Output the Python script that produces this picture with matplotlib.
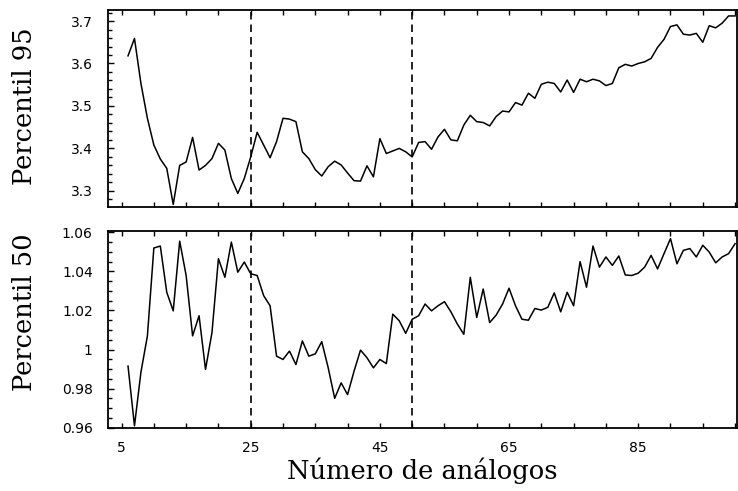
import matplotlib
matplotlib.use("Agg")
import matplotlib.pyplot as plt
from matplotlib.ticker import MultipleLocator, FixedLocator, FuncFormatter

# ---- data ----
n_analogos = list(range(6, 101))

percentil_95 = [
    3.618, 3.659, 3.553, 3.471, 3.408, 3.375, 3.353, 3.268, 3.360, 3.368,
    3.426, 3.349, 3.360, 3.376, 3.412, 3.396, 3.329, 3.294, 3.329, 3.380,
    3.438, 3.408, 3.378, 3.416, 3.471, 3.469, 3.463, 3.392, 3.376, 3.350,
    3.335, 3.357, 3.370, 3.361, 3.342, 3.324, 3.323, 3.359, 3.333, 3.423,
    3.388, 3.394, 3.400, 3.392, 3.380, 3.414, 3.416, 3.398, 3.427, 3.445,
    3.420, 3.418, 3.455, 3.478, 3.463, 3.461, 3.453, 3.475, 3.488, 3.486,
    3.508, 3.502, 3.530, 3.518, 3.551, 3.556, 3.553, 3.533, 3.561, 3.532,
    3.563, 3.557, 3.563, 3.559, 3.548, 3.553, 3.590, 3.598, 3.594, 3.600,
    3.604, 3.612, 3.638, 3.657, 3.687, 3.691, 3.669, 3.667, 3.671, 3.650,
    3.689, 3.684, 3.695, 3.712, 3.712,
]

percentil_50 = [
    0.9915, 0.9609, 0.9884, 1.0069, 1.0520, 1.0530, 1.0293, 1.0198, 1.0555, 1.0379,
    1.0070, 1.0173, 0.9898, 1.0087, 1.0465, 1.0370, 1.0550, 1.0396, 1.0448, 1.0388,
    1.0379, 1.0276, 1.0224, 0.9966, 0.9949, 0.9992, 0.9923, 1.0044, 0.9966, 0.9978,
    1.0040, 0.9906, 0.9750, 0.9829, 0.9769, 0.9889, 0.9997, 0.9958, 0.9906, 0.9949,
    0.9928, 1.0181, 1.0147, 1.0083, 1.0155, 1.0173, 1.0233, 1.0198, 1.0224, 1.0245,
    1.0193, 1.0130, 1.0078, 1.0370, 1.0164, 1.0310, 1.0138, 1.0176, 1.0233, 1.0314,
    1.0224, 1.0155, 1.0150, 1.0210, 1.0202, 1.0216, 1.0290, 1.0193, 1.0293, 1.0224,
    1.0450, 1.0319, 1.0530, 1.0422, 1.0474, 1.0431, 1.0479, 1.0382, 1.0379, 1.0391,
    1.0422, 1.0482, 1.0413, 1.0491, 1.0568, 1.0439, 1.0508, 1.0517, 1.0474, 1.0534,
    1.0499, 1.0444, 1.0474, 1.0491, 1.0542,
]

limites = [25, 50]
x_ticks = [5, 25, 45, 65, 85]
top_yticks = [3.3, 3.4, 3.5, 3.6, 3.7]
bot_yticks = [0.96, 0.98, 1.0, 1.02, 1.04, 1.06]

# ---- figure ----
fig = plt.figure(figsize=(7.38, 4.91), dpi=100)
W, H = 738, 491
def rect(l, r, t, b):
    return [l / W, 1 - b / H, (r - l) / W, (b - t) / H]

ax1 = fig.add_axes(rect(108, 737, 10, 207))
ax2 = fig.add_axes(rect(108, 737, 231, 428))

tick_font = dict(family="DejaVu Sans", size=10)
label_font = dict(family="DejaVu Serif", size=18.5)

fmt = FuncFormatter(lambda v, p: "%g" % round(v, 4))

for ax, y, yt, ylim, yminor, lab, lab_y in [
    (ax1, percentil_95, top_yticks, (3.262, 3.726), 0.02, "Percentil 95", 0.513),
    (ax2, percentil_50, bot_yticks, (0.9598, 1.0607), 0.005, "Percentil 50", 0.589),
]:
    ax.plot(n_analogos, y, color="black", lw=1.1)
    for xv in limites:
        ax.axvline(xv, color="black", lw=1.2, ls=(0, (4.5, 3)))
    ax.set_xlim(2.9, 100.3)
    ax.set_ylim(*ylim)
    ax.xaxis.set_major_locator(FixedLocator(x_ticks))
    ax.xaxis.set_minor_locator(MultipleLocator(5))
    ax.yaxis.set_major_locator(FixedLocator(yt))
    ax.yaxis.set_minor_locator(MultipleLocator(yminor))
    ax.yaxis.set_major_formatter(fmt)
    ax.tick_params(axis="x", which="both", direction="in", top=True, bottom=True,
                   length=3.5, width=1, pad=9)
    ax.tick_params(axis="y", which="major", direction="in", left=True, right=False,
                   length=4.5, width=1, pad=11)
    ax.tick_params(axis="y", which="minor", direction="in", left=True, right=False,
                   length=3, width=1)
    for t in ax.get_xticklabels() + ax.get_yticklabels():
        t.set_fontfamily(tick_font["family"])
        t.set_fontsize(tick_font["size"])
    for s in ax.spines.values():
        s.set_linewidth(1.3)
    ax.set_ylabel(lab, fontfamily=label_font["family"], fontsize=label_font["size"],
                  va="center", ha="center")
    ax.yaxis.set_label_coords(-0.132, lab_y)

ax1.tick_params(axis="x", labelbottom=False)
ax2.set_xlabel("Número de análogos", fontfamily=label_font["family"],
               fontsize=label_font["size"], labelpad=2)

fig.savefig("out.png", dpi=100)
